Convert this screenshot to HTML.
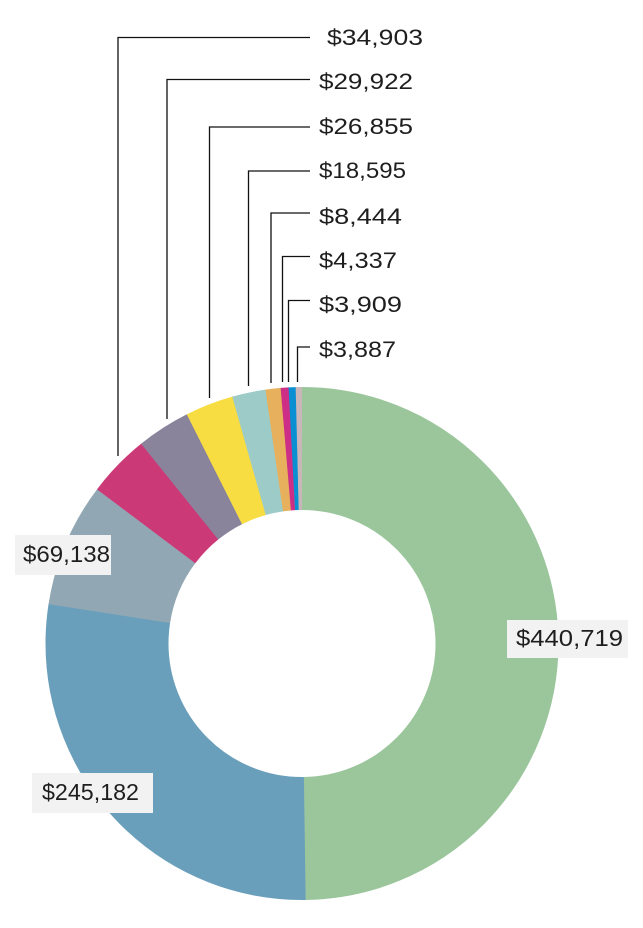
<!DOCTYPE html>
<html>
<head>
<meta charset="utf-8">
<style>
  html,body{margin:0;padding:0;background:#fff;}
  body{width:643px;height:928px;overflow:hidden;}
  svg{display:block;}
  text{font-family:"Liberation Sans",sans-serif;fill:#1e1e1e;}
</style>
</head>
<body>
<svg width="643" height="928" viewBox="0 0 643 928" xmlns="http://www.w3.org/2000/svg">
  <!-- donut via stroked circle, r=195, width=123, C=1225.22 -->
  <g transform="rotate(-90 302 643.5)" fill="none" stroke-width="123">
    <circle cx="302" cy="643.5" r="195" stroke="#9bc69c" stroke-dasharray="609.9 1225.22" stroke-dashoffset="0"/>
    <circle cx="302" cy="643.5" r="195" stroke="#6a9fbb" stroke-dasharray="339.5 1225.22" stroke-dashoffset="-609.53"/>
    <circle cx="302" cy="643.5" r="195" stroke="#91a8b4" stroke-dasharray="96.0 1225.22" stroke-dashoffset="-948.62"/>
    <circle cx="302" cy="643.5" r="195" stroke="#cc3977" stroke-dasharray="48.6 1225.22" stroke-dashoffset="-1044.24"/>
    <circle cx="302" cy="643.5" r="195" stroke="#89839c" stroke-dasharray="41.7 1225.22" stroke-dashoffset="-1092.51"/>
    <circle cx="302" cy="643.5" r="195" stroke="#f7dc42" stroke-dasharray="37.5 1225.22" stroke-dashoffset="-1133.89"/>
    <circle cx="302" cy="643.5" r="195" stroke="#9ccbc8" stroke-dasharray="26.0 1225.22" stroke-dashoffset="-1171.03"/>
    <circle cx="302" cy="643.5" r="195" stroke="#e6b05d" stroke-dasharray="12.0 1225.22" stroke-dashoffset="-1196.75"/>
    <circle cx="302" cy="643.5" r="195" stroke="#cc2f85" stroke-dasharray="6.3 1225.22" stroke-dashoffset="-1208.43"/>
    <circle cx="302" cy="643.5" r="195" stroke="#0a8fd2" stroke-dasharray="5.7 1225.22" stroke-dashoffset="-1214.43"/>
    <circle cx="302" cy="643.5" r="195" stroke="#c8b6b8" stroke-dasharray="5.38 1225.22" stroke-dashoffset="-1219.84"/>
  </g>

  <!-- leader lines -->
  <g fill="none" stroke="#111" stroke-width="1.3">
    <polyline points="118,456 118,37.5 310,37.5"/>
    <polyline points="167,419 167,79.5 310,79.5"/>
    <polyline points="209.5,398 209.5,127 310,127"/>
    <polyline points="248.5,386 248.5,171 310,171"/>
    <polyline points="271,383 271,213 310,213"/>
    <polyline points="282.5,382 282.5,256.5 310,256.5"/>
    <polyline points="288.5,382 288.5,300.5 310,300.5"/>
    <polyline points="297.5,382 297.5,347 310,347"/>
  </g>

  <!-- leader labels -->
  <g font-size="22">
    <text x="327" y="45" textLength="96" lengthAdjust="spacingAndGlyphs">$34,903</text>
    <text x="319" y="89" textLength="94" lengthAdjust="spacingAndGlyphs">$29,922</text>
    <text x="319" y="134" textLength="94" lengthAdjust="spacingAndGlyphs">$26,855</text>
    <text x="319" y="178" textLength="87" lengthAdjust="spacingAndGlyphs">$18,595</text>
    <text x="319" y="224" textLength="83" lengthAdjust="spacingAndGlyphs">$8,444</text>
    <text x="319" y="268" textLength="78" lengthAdjust="spacingAndGlyphs">$4,337</text>
    <text x="319" y="312" textLength="83" lengthAdjust="spacingAndGlyphs">$3,909</text>
    <text x="319" y="357" textLength="77" lengthAdjust="spacingAndGlyphs">$3,887</text>
  </g>

  <!-- boxed labels -->
  <rect x="507" y="620" width="121" height="38" fill="#f2f2f2"/>
  <text x="516" y="646" font-size="23" textLength="107" lengthAdjust="spacingAndGlyphs">$440,719</text>

  <rect x="15" y="535" width="96" height="40" fill="#f2f2f2"/>
  <text x="23" y="562" font-size="23" textLength="87" lengthAdjust="spacingAndGlyphs">$69,138</text>

  <rect x="32" y="773" width="121" height="40" fill="#f2f2f2"/>
  <text x="42" y="800" font-size="23" textLength="97" lengthAdjust="spacingAndGlyphs">$245,182</text>
</svg>
</body>
</html>
